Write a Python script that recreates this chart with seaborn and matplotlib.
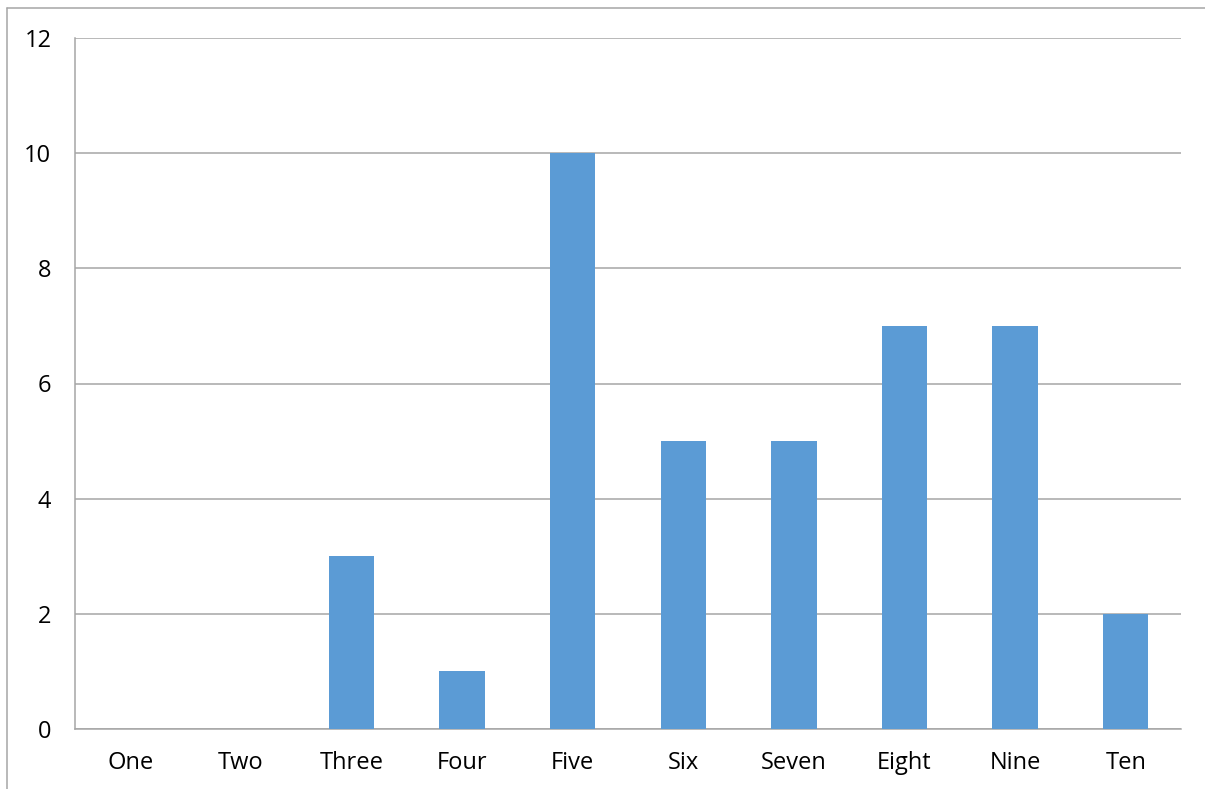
import matplotlib
matplotlib.use("Agg")
import matplotlib.pyplot as plt
from matplotlib.lines import Line2D
import seaborn as sns
import pandas as pd
import numpy as np

categories = ["One", "Two", "Three", "Four", "Five", "Six", "Seven", "Eight", "Nine", "Ten"]
counts = [0, 0, 3, 1, 10, 5, 5, 7, 7, 2]
y_ticks = [0, 2, 4, 6, 8, 10, 12]

bar_color = "#5B9BD5"
line_color = "#A6A6A6"

sns.set_style("white")
plt.rcParams["font.family"] = ["Open Sans", "DejaVu Sans"]

W, H = 1205, 789
fig = plt.figure(figsize=(W / 100, H / 100), dpi=100)
ax = fig.add_axes([75 / W, 1 - 729 / H, (1181 - 75) / W, (729 - 38) / H])

df = pd.DataFrame({"category": categories, "count": counts})
sns.barplot(data=df, x="category", y="count", color=bar_color, width=0.41,
            saturation=1, linewidth=0, ax=ax, zorder=3)

ax.set_ylim(0, 12)
ax.set_xlim(-0.5, len(categories) - 0.5)
ax.set_yticks(y_ticks)
ax.set_xlabel("")
ax.set_ylabel("")
ax.yaxis.grid(True, color=line_color, linewidth=1.1, zorder=0)
ax.set_axisbelow(True)

for side in ["top", "right"]:
    ax.spines[side].set_visible(False)
for side in ["left", "bottom"]:
    ax.spines[side].set_color(line_color)
    ax.spines[side].set_linewidth(1.1)

ax.tick_params(axis="y", which="major", length=5, width=1.1, color=line_color,
               pad=12, labelsize=17, labelcolor="black")
ax.set_xticks(np.arange(-0.5, len(categories), 1.0), minor=True)
ax.tick_params(axis="x", which="minor", length=6, width=1.1, color=line_color)
ax.tick_params(axis="x", which="major", length=0, pad=16, labelsize=17,
               labelcolor="black")

# outer chart frame
fig.add_artist(Line2D([7 / W, 1], [1 - 8 / H, 1 - 8 / H], color=line_color,
                      linewidth=1.1, transform=fig.transFigure))
fig.add_artist(Line2D([7 / W, 7 / W], [1 - 8 / H, 0], color=line_color,
                      linewidth=1.1, transform=fig.transFigure))

fig.savefig("out.png", dpi=100)
